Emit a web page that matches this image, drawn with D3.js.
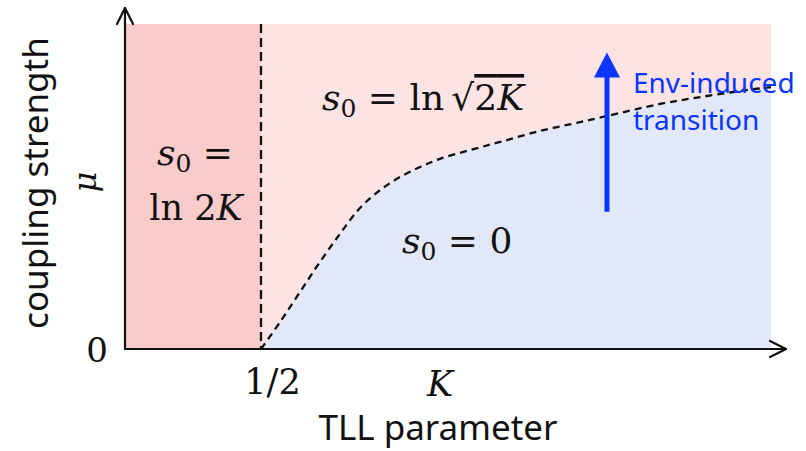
<!DOCTYPE html>
<html>
<head>
<meta charset="utf-8">
<script src="https://cdn.jsdelivr.net/npm/d3@7/dist/d3.min.js"></script>
<style>
  html, body { margin: 0; padding: 0; background: #ffffff; }
  svg { display: block; }
  .math { font-family: "DejaVu Serif", "Liberation Serif", serif; fill: #111; }
  .sans { font-family: "Noto Sans", "Open Sans", sans-serif; fill: #111; }
</style>
</head>
<body>
<svg id="chart" width="806" height="451"></svg>
<script>
// Phase diagram: TLL parameter K (x) versus coupling strength mu (y)
const kMax = 2.375;          // right edge of the shaded phase plane
const kCritical = 0.5;       // vertical phase boundary K = 1/2
const muMax = 1;             // top of the shaded phase plane

// Boundary between s0 = ln sqrt(2K) (above) and s0 = 0 (below)
const boundaryK  = [0.5, 0.570, 0.643, 0.717, 0.790, 0.864, 0.938, 1.011, 1.085, 1.158, 1.268, 1.379, 1.526, 1.673, 1.772, 1.967, 2.114, 2.261, 2.375];
const boundaryMu = [0,   0.083, 0.175, 0.268, 0.354, 0.434, 0.489, 0.529, 0.560, 0.585, 0.612, 0.637, 0.671, 0.698, 0.717, 0.754, 0.775, 0.794, 0.806];

// Tick labels
const xTickValues = [0.5];
const xTickLabels = ["1/2"];
const yTickValues = [0];
const yTickLabels = ["0"];

// Environment-induced transition arrow (K position, mu from -> to)
const envArrowK = 1.772;
const envArrowMu = [0.422, 0.912];

const colors = {
  lnTwoK: "#f9cbcb",
  lnSqrt: "#fbe4e3",
  zero: "#e3e8f8",
  arrow: "#0a35ff",
  axis: "#111111"
};

const svg = d3.select("#chart");
const x = d3.scaleLinear().domain([0, kMax]).range([125, 771]);
const y = d3.scaleLinear().domain([0, muMax]).range([349, 24]);

const boundary = boundaryK.map((k, i) => ({ k, mu: boundaryMu[i] }));

// Phase regions
svg.append("rect")
  .attr("x", x(0)).attr("y", y(muMax))
  .attr("width", x(kCritical) - x(0)).attr("height", y(0) - y(muMax))
  .attr("fill", colors.lnTwoK);

svg.append("rect")
  .attr("x", x(kCritical)).attr("y", y(muMax))
  .attr("width", x(kMax) - x(kCritical)).attr("height", y(0) - y(muMax))
  .attr("fill", colors.lnSqrt);

const curve = d3.curveCatmullRom.alpha(0.5);
svg.append("path")
  .datum(boundary)
  .attr("fill", colors.zero)
  .attr("d", d3.area().x(d => x(d.k)).y0(y(0)).y1(d => y(d.mu)).curve(curve));

// Phase boundaries (dashed)
svg.append("line")
  .attr("x1", x(kCritical)).attr("x2", x(kCritical))
  .attr("y1", y(muMax)).attr("y2", y(0))
  .attr("stroke", "#111").attr("stroke-width", 2.3)
  .attr("stroke-dasharray", "9,5");

svg.append("path")
  .datum(boundary)
  .attr("fill", "none")
  .attr("stroke", "#111").attr("stroke-width", 2.3)
  .attr("stroke-dasharray", "7,5")
  .attr("d", d3.line().x(d => x(d.k)).y(d => y(d.mu)).curve(curve));

// Axes with tick labels only
const xAxis = d3.axisBottom(x).tickValues(xTickValues)
  .tickFormat((d, i) => xTickLabels[i]).tickSize(0).tickPadding(0);
const gx = svg.append("g").attr("transform", `translate(0,${y(0)})`).call(xAxis);
gx.select(".domain").remove();
gx.selectAll("text")
  .attr("class", "math").attr("font-size", 35).attr("dy", "1.28em").attr("dx", 11).attr("fill", "#111");

const yAxis = d3.axisLeft(y).tickValues(yTickValues)
  .tickFormat((d, i) => yTickLabels[i]).tickSize(0).tickPadding(0);
const gy = svg.append("g").attr("transform", `translate(${x(0)},0)`).call(yAxis);
gy.select(".domain").remove();
gy.selectAll("text")
  .attr("class", "math").attr("font-size", 34).attr("dx", -17).attr("dy", "0.38em").attr("fill", "#111");

// Axis lines with open arrowheads
const axisG = svg.append("g").attr("fill", "none").attr("stroke", colors.axis)
  .attr("stroke-width", 2.2).attr("stroke-linecap", "round").attr("stroke-linejoin", "round");
const yTop = 8, xRight = 786;
axisG.append("path").attr("d", `M${x(0)},${y(0)} V${yTop}`);
axisG.append("path").attr("d", `M${x(0) - 8},${yTop + 16} L${x(0)},${yTop} L${x(0) + 8},${yTop + 16}`);
axisG.append("path").attr("d", `M${x(0)},${y(0)} H${xRight}`);
axisG.append("path").attr("d", `M${xRight - 16},${y(0) - 8} L${xRight},${y(0)} L${xRight - 16},${y(0) + 8}`);

// Axis titles
svg.append("text").attr("class", "sans")
  .attr("x", 438).attr("y", 440).attr("text-anchor", "middle")
  .attr("font-size", 35).text("TLL parameter");

svg.append("text").attr("class", "math")
  .attr("x", 440).attr("y", 396).attr("text-anchor", "middle")
  .attr("font-size", 35).attr("font-style", "italic").text("K");

svg.append("text").attr("class", "sans")
  .attr("transform", "translate(48,183) rotate(-90)")
  .attr("text-anchor", "middle").attr("font-size", 35).text("coupling strength");

svg.append("text").attr("class", "math")
  .attr("transform", "translate(96,182) rotate(-90)")
  .attr("text-anchor", "middle").attr("font-size", 32).attr("font-style", "italic").text("μ");

// Phase labels: italic s with subscript 0, then the formula
function sZero(t) {
  t.append("tspan").attr("font-style", "italic").text("s");
  t.append("tspan").attr("font-size", 25).attr("dy", 7).text("0");
  t.append("tspan").attr("dy", -7).text(" = ");
}

svg.append("text").attr("class", "math")
  .attr("x", 157).attr("y", 165).attr("font-size", 36)
  .call(sZero);

svg.append("text").attr("class", "math")
  .attr("x", 196).attr("y", 220).attr("text-anchor", "middle").attr("font-size", 35)
  .call(t => {
    t.append("tspan").text("ln 2");
    t.append("tspan").attr("font-style", "italic").text("K");
  });

svg.append("text").attr("class", "math")
  .attr("x", 322).attr("y", 110).attr("font-size", 36)
  .call(sZero)
  .call(t => {
    t.append("tspan").text("ln\u2009√");
    t.append("tspan").text("2").style("text-decoration", "overline");
    t.append("tspan").attr("font-style", "italic").text("K").style("text-decoration", "overline");
  });

svg.append("text").attr("class", "math")
  .attr("x", 402).attr("y", 253).attr("font-size", 36)
  .call(sZero)
  .call(t => t.append("tspan").text("0"));

// Environment-induced transition arrow
const ax = x(envArrowK);
svg.append("line")
  .attr("x1", ax).attr("x2", ax)
  .attr("y1", y(envArrowMu[0])).attr("y2", y(envArrowMu[1]) + 22)
  .attr("stroke", colors.arrow).attr("stroke-width", 5);
svg.append("path")
  .attr("d", d3.line()([[ax - 13, y(envArrowMu[1]) + 25], [ax, y(envArrowMu[1])], [ax + 13, y(envArrowMu[1]) + 25]]) + "Z")
  .attr("fill", colors.arrow);

svg.append("text").attr("class", "sans")
  .attr("x", 633).attr("y", 93).attr("font-size", 28)
  .style("fill", colors.arrow).text("Env-induced");
svg.append("text").attr("class", "sans")
  .attr("x", 633).attr("y", 130).attr("font-size", 28)
  .style("fill", colors.arrow).text("transition");
</script>
</body>
</html>
